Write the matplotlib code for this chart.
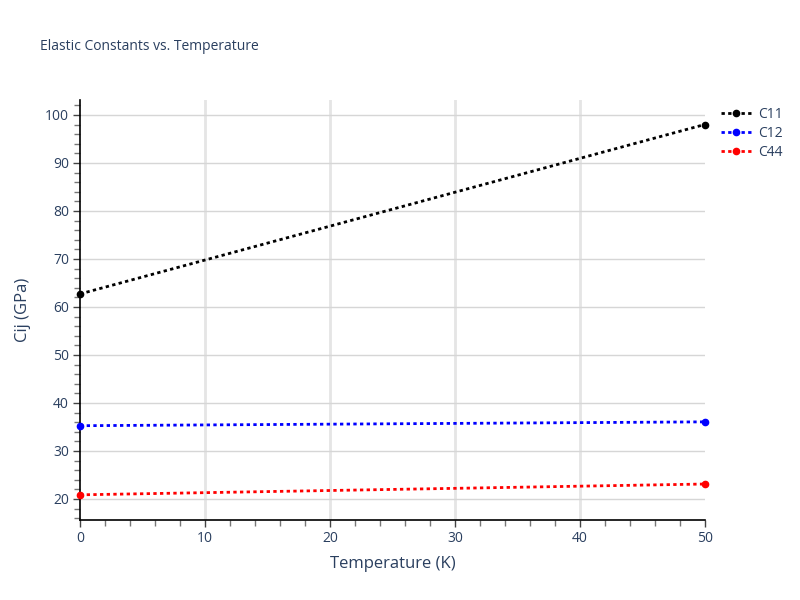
import numpy as np
import matplotlib.pyplot as plt
from matplotlib.ticker import MultipleLocator

# Data
temperature = [0, 50]
c11 = [62.7, 98.0]
c12 = [35.25, 36.05]
c44 = [20.85, 23.1]
series_names = ['C11', 'C12', 'C44']
series_colors = ['black', 'blue', 'red']

plt.rcParams['font.family'] = ['Open Sans', 'DejaVu Sans']
text_color = '#2a3f5f'

fig = plt.figure(figsize=(8, 6), dpi=100)
ax = fig.add_axes([0.1, 0.1333, 0.781, 0.7])

for name, vals, col in zip(series_names, [c11, c12, c44], series_colors):
    ax.plot(temperature, vals, linestyle=(0, (1.2, 1.2)), linewidth=2, color=col,
            marker='o', markersize=4.5, label=name, clip_on=False, zorder=3)

ax.set_xlim(0, 50)
ax.set_ylim(15.6, 103.1)
ax.xaxis.set_major_locator(MultipleLocator(10))
ax.xaxis.set_minor_locator(MultipleLocator(2))
ax.yaxis.set_major_locator(MultipleLocator(10))
ax.yaxis.set_minor_locator(MultipleLocator(2))

# grid lines
ax.grid(False)
for xv in [10, 20, 30, 40]:
    ax.axvline(xv, color='#e5e5e5', linewidth=2, zorder=0)
for yv in range(20, 101, 10):
    ax.axhline(yv, color='#d6d6d6', linewidth=1, zorder=0)

for side in ['top', 'right']:
    ax.spines[side].set_visible(False)
for side in ['left', 'bottom']:
    ax.spines[side].set_color('black')
    ax.spines[side].set_linewidth(1.2)

ax.tick_params(axis='both', which='major', direction='out', length=5, width=1,
               color='#444444', labelsize=10, labelcolor=text_color, pad=3)
ax.tick_params(axis='both', which='minor', direction='out', length=4, width=1,
               color='#777777')

ax.set_xlabel('Temperature (K)', fontsize=12, color=text_color, labelpad=7)
ax.set_ylabel('Cij (GPa)', fontsize=12, color=text_color, labelpad=10)

fig.text(0.05, 0.922, 'Elastic Constants vs. Temperature', fontsize=10,
         color=text_color, va='center', ha='left')

leg = ax.legend(loc='upper left', bbox_to_anchor=(1.01, 1.007), frameon=False,
                fontsize=10, labelcolor=text_color, handlelength=2.2,
                handletextpad=0.5, labelspacing=0.3, borderaxespad=0.3)

fig.savefig('out.png', dpi=100)
